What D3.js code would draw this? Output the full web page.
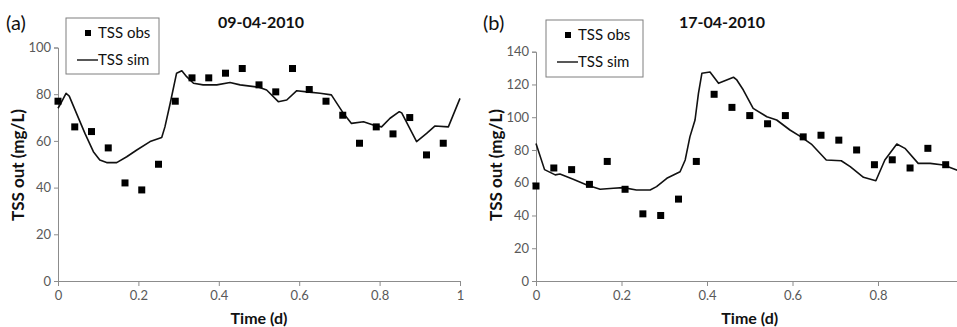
<!DOCTYPE html>
<html>
<head>
<meta charset="utf-8">
<script src="https://cdn.jsdelivr.net/npm/d3@7/dist/d3.min.js"></script>
<style>
  html, body { margin: 0; padding: 0; background: #fff; }
  svg { display: block; font-family: Lato, "Open Sans", sans-serif; }
</style>
</head>
<body>
<svg id="chart" width="957" height="327"></svg>
<script>
// Sampling times of the observations (hourly, in days)
const obsTimes = d3.range(24).map(k => k / 24);

// Panel (a): 09-04-2010
const obsA = [77, 66, 64, 57, 42, 39, 50, 77, 87, 87, 89, 91, 84, 81, 91, 82, 77, 71, 59, 66, 63, 70, 54, 59];
const simTimeA = [0, 0.005, 0.02, 0.028, 0.046, 0.067, 0.088, 0.104, 0.121, 0.146, 0.171, 0.196, 0.229, 0.258,
  0.266, 0.279, 0.295, 0.308, 0.32, 0.337, 0.361, 0.395, 0.428, 0.453, 0.5, 0.519, 0.548, 0.569, 0.594, 0.619,
  0.652, 0.68, 0.71, 0.73, 0.76, 0.784, 0.805, 0.826, 0.849, 0.855, 0.892, 0.917, 0.938, 0.971, 1.0];
const simA = [74, 75.4, 80.4, 79.2, 71.8, 63.2, 55.4, 51.8, 50.7, 50.7, 53.2, 56.1, 59.7, 61.5,
  66, 76, 89, 90, 87.5, 84.7, 84, 84, 85, 84, 83, 81.8, 76.8, 77.5, 81.5, 81,
  80.4, 79.7, 71.8, 67.5, 68.2, 66.8, 66, 69.7, 72.5, 72, 59.7, 63.2, 66.4, 66, 78.2];

// Panel (b): 17-04-2010
const obsB = [58, 69, 68, 59, 73, 56, 41, 40, 50, 73, 114, 106, 101, 96, 101, 88, 89, 86, 80, 71, 74, 69, 81, 71];
const simTimeB = [0, 0.02, 0.045, 0.056, 0.087, 0.119, 0.15, 0.181, 0.204, 0.235, 0.267, 0.282, 0.306, 0.337,
  0.349, 0.36, 0.372, 0.38, 0.388, 0.407, 0.427, 0.446, 0.462, 0.469, 0.485, 0.508, 0.54, 0.563, 0.594, 0.62,
  0.644, 0.679, 0.714, 0.735, 0.766, 0.795, 0.816, 0.844, 0.863, 0.894, 0.922, 0.953, 0.984, 1.0];
const simB = [84, 68, 64.8, 65.3, 62.1, 58.6, 56, 56.6, 57, 55.6, 55.6, 57.6, 62.7, 66.7,
  73.9, 88, 98.3, 114.6, 126.8, 127.6, 120.7, 122.7, 124.4, 123, 116.6, 105.4, 100.3, 98.3, 92.2, 88,
  83.6, 73.9, 73.4, 69.8, 63.3, 61.2, 73.9, 83.6, 81, 71.8, 71.8, 70.8, 67.8, 66.5];

// Tick labels
const xTicksA = [0, 0.2, 0.4, 0.6, 0.8, 1];
const xTicksB = [0, 0.2, 0.4, 0.6, 0.8];
const yTicksA = [0, 20, 40, 60, 80, 100];
const yTicksB = [0, 20, 40, 60, 80, 100, 120, 140];

const svg = d3.select("#chart");
const axisColor = "#8c8c8c";
const tickTextColor = "#595959";

function drawPanel(p) {
  const g = svg.append("g");
  const x = d3.scaleLinear().domain([0, 1]).range([p.x0, p.x1]);
  const y = d3.scaleLinear().domain([0, p.yMax]).range([281, p.yTop]);

  // y axis
  const ya = g.append("g").attr("transform", `translate(${p.x0},0)`)
    .call(d3.axisLeft(y).tickValues(p.yTicks).tickSize(4).tickPadding(3).tickFormat(d3.format("d")));
  // x axis
  const xa = g.append("g").attr("transform", `translate(0,281)`)
    .call(d3.axisBottom(x).tickValues(p.xTicks).tickSize(5).tickPadding(5)
      .tickFormat(d => d === 0 || d === 1 ? d : d3.format(".1f")(d)));
  [ya, xa].forEach(a => {
    a.select(".domain").attr("stroke", axisColor).attr("stroke-width", 1);
    a.selectAll(".tick line").attr("stroke", axisColor);
    a.selectAll(".tick text").attr("fill", tickTextColor).style("font-size", "13px")
      .style("font-family", "Lato, 'Open Sans', sans-serif");
  });

  // simulated series
  const pts = p.simTime.map((t, i) => [t, p.sim[i]]);
  g.append("path").datum(pts)
    .attr("fill", "none").attr("stroke", "#111").attr("stroke-width", 1.6)
    .attr("stroke-linejoin", "round")
    .attr("d", d3.line().x(d => x(d[0])).y(d => y(d[1])));

  // observed series
  const s = 7;
  g.selectAll("rect.obs").data(obsTimes.map((t, i) => [t, p.obs[i]])).join("rect")
    .attr("class", "obs")
    .attr("x", d => x(d[0]) - s / 2).attr("y", d => y(d[1]) - s / 2)
    .attr("width", s).attr("height", s).attr("fill", "#000");

  // panel letter
  g.append("text").attr("x", p.letterX).attr("y", 30).text(p.letter)
    .style("font-size", "20px").attr("fill", "#111");
  // title
  g.append("text").attr("x", p.titleX).attr("y", 28).attr("text-anchor", "middle")
    .text(p.title).style("font-size", "16px").style("font-weight", "bold").attr("fill", "#111");

  // axis titles
  g.append("text").attr("x", (p.x0 + p.xTitleRight) / 2).attr("y", 324).attr("text-anchor", "middle")
    .text("Time (d)").style("font-size", "16px").style("font-weight", "bold").attr("fill", "#111");
  g.append("text").attr("transform", `translate(${p.yTitleX},165) rotate(-90)`).attr("text-anchor", "middle")
    .text("TSS out (mg/L)").style("font-size", "17px").style("font-weight", "bold").attr("fill", "#111");

  // legend
  const L = p.legend;
  g.append("rect").attr("x", L.x).attr("y", L.y).attr("width", L.w).attr("height", L.h)
    .attr("fill", "#fff").attr("stroke", "#7f7f7f").attr("stroke-width", 1);
  g.append("rect").attr("x", L.x + 19).attr("y", L.y + 12).attr("width", 6).attr("height", 6).attr("fill", "#000");
  g.append("text").attr("x", L.x + 32).attr("y", L.y + 20).text("TSS obs")
    .style("font-size", "15px").attr("fill", "#111");
  g.append("line").attr("x1", L.x + 11).attr("x2", L.x + 32).attr("y1", L.y + 42).attr("y2", L.y + 42)
    .attr("stroke", "#111").attr("stroke-width", 1.4);
  g.append("text").attr("x", L.x + 32).attr("y", L.y + 47).text("TSS sim")
    .style("font-size", "15px").attr("fill", "#111");
}

drawPanel({
  x0: 58, x1: 460, yMax: 100, yTop: 47.5, yTicks: yTicksA, xTicks: xTicksA,
  obs: obsA, simTime: simTimeA, sim: simA,
  letter: "(a)", letterX: 6, title: "09-04-2010", titleX: 261,
  xTitleRight: 460, yTitleX: 24,
  legend: { x: 66, y: 18, w: 93, h: 56 }
});

drawPanel({
  x0: 536, x1: 963.5, yMax: 140, yTop: 51.7, yTicks: yTicksB, xTicks: xTicksB,
  obs: obsB, simTime: simTimeB, sim: simB,
  letter: "(b)", letterX: 483, title: "17-04-2010", titleX: 722,
  xTitleRight: 963.5, yTitleX: 502,
  legend: { x: 546, y: 20, w: 97, h: 57 }
});
</script>
</body>
</html>
